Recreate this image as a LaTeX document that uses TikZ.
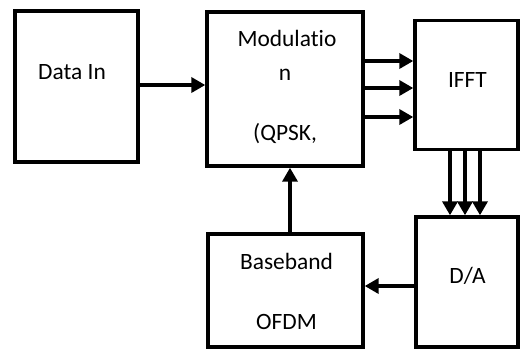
\documentclass[tikz,border=0pt]{standalone}
\usepackage{fontspec}
\setmainfont{Carlito}[Ligatures=NoCommon]
\usetikzlibrary{arrows.meta}

\begin{document}
\begin{tikzpicture}[x=0.5pt, y=-0.5pt,
    blk/.style={draw, line width=1.7pt, inner sep=0pt, minimum width=#1},
    lbl/.style={anchor=base, font=\fontsize{11.7}{14}\selectfont},
    arr/.style={line width=2pt, -{Triangle[length=7pt, width=7.5pt]}}]
  \useasboundingbox (0,0) rectangle (520,350);

  % Blocks
  \node[blk=61.5pt, minimum height=75.5pt] (datain) at (76.5,86.5) {};
  \node[blk=78pt, minimum height=77pt] (modul) at (285,89) {};
  \node[blk=51.5pt, minimum height=64.5pt] (ifft) at (466.5,85) {};
  \node[blk=51pt, minimum height=65pt] (da) at (467,282) {};
  \node[blk=77.5pt, minimum height=56.5pt] (base) at (285.5,290.5) {};

  % Texts
  \node[lbl] (tdata) at (72,79) {Data In};
  \node[lbl] (tmod1) at (287,46) {Modulatio};
  \node[lbl] (tmod2) at (285,80) {n};
  \node[lbl] (tmod3) at (285,140) {(QPSK,};
  \node[lbl] (tifft) at (467.5,87) {IFFT};
  \node[lbl] (tda) at (467.5,283) {D/A};
  \node[lbl] (tbase1) at (286.5,269) {Baseband};
  \node[lbl] (tbase2) at (286.5,329) {OFDM};

  % Connections
  \draw[arr] (datain.east |- 0,85) -- (modul.west |- 0,85);
  \foreach \y in {61,88,117}
    \draw[arr] (modul.east |- 0,\y) -- (ifft.west |- 0,\y);
  \foreach \x in {450,465,480}
    \draw[arr] (ifft.south -| \x,0) -- (da.north -| \x,0);
  \draw[arr] (da.west |- 0,286) -- (base.east |- 0,286);
  \draw[arr] (base.north -| 290,0) -- (modul.south -| 290,0);
\end{tikzpicture}
\end{document}
